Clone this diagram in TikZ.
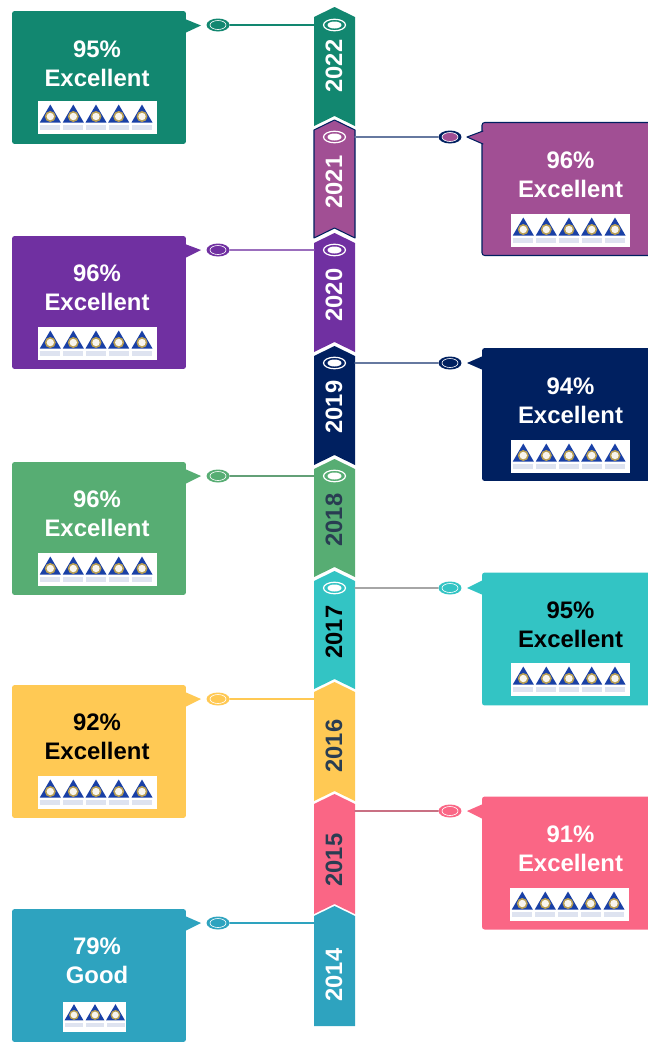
\documentclass[tikz,border=0pt]{standalone}
\usepackage{xcolor}
\usepackage{fontspec}
\usepackage{tikz}
\usetikzlibrary{shapes.geometric}
\setmainfont{Liberation Sans}
\definecolor{cc2022}{rgb}{0.07,0.53,0.44}
\definecolor{cc2021}{rgb}{0.63,0.31,0.58}
\definecolor{cc2020}{rgb}{0.44,0.19,0.63}
\definecolor{cc2019}{rgb}{0.,0.125,0.376}
\definecolor{cc2018}{rgb}{0.34,0.68,0.45}
\definecolor{cc2017}{rgb}{0.2,0.77,0.77}
\definecolor{cc2016}{rgb}{1.,0.79,0.33}
\definecolor{cc2015}{rgb}{0.98,0.4,0.52}
\definecolor{cc2014}{rgb}{0.18,0.64,0.75}
\definecolor{slate}{rgb}{0.16,0.24,0.32}
\definecolor{tipblue}{rgb}{0.1,0.25,0.65}
\definecolor{tipgold}{rgb}{0.72,0.62,0.32}
\definecolor{tipgrey}{rgb}{0.87,0.89,0.94}
\tikzstyle{every node}=[font=\fontsize{13.6}{16.5}\selectfont\bfseries]
\tikzstyle{boxnode}=[rectangle,rounded corners=1.5pt,minimum width=3.48cm,minimum height=2.66cm,inner sep=0pt]
\tikzstyle{scorenode}=[align=center,inner sep=0pt]
\tikzstyle{yearnode}=[rotate=90,inner sep=0pt,font=\fontsize{13.5}{16}\selectfont\bfseries]
\tikzstyle{dotnode}=[ellipse,minimum width=0.46cm,minimum height=0.26cm,inner sep=0pt]
\tikzstyle{dotring}=[ellipse,draw=white,line width=0.35pt,minimum width=0.32cm,minimum height=0.18cm,inner sep=0pt]
\tikzstyle{ringout}=[ellipse,draw=white,line width=0.7pt,minimum width=0.44cm,minimum height=0.23cm,inner sep=0pt]
\tikzstyle{ringin}=[ellipse,fill=white,minimum width=0.28cm,minimum height=0.14cm,inner sep=0pt]
\tikzset{logomark/.pic={
  \fill [tipblue] (0,3.5) -- (10.5,21.5) -- (-10.5,21.5) -- cycle;
  \fill [tipgold] (0,15.5) circle [radius=5.5];
  \fill [white!90!tipgold] (0,15.5) circle [radius=3.7];
  \fill [tipgrey] (-10,24) rectangle (10,28.5);
}}
\newcommand{\logofive}[2]{
  \fill [white] (#1,#2) rectangle ++(119,33);
  \pic at (#1+12.3,#2) {logomark};
  \pic at (#1+35.3,#2) {logomark};
  \pic at (#1+58,#2) {logomark};
  \pic at (#1+80.7,#2) {logomark};
  \pic at (#1+104,#2) {logomark};
}
\begin{document}
\begin{tikzpicture}[line cap=round,line join=round,x=0.02cm,y=-0.02cm]
\clip (0,0) rectangle (648,1042);
% ribbon
\fill [cc2022] (314,17) -- (334.5,7) -- (355,17) -- (355,126) -- (334.5,116) -- (314,126) -- cycle;
\draw [line width=0.6pt,color=cc2019,fill=cc2021] (314,130) -- (334.5,120) -- (355,130) -- (355,238) -- (334.5,228) -- (314,238) -- cycle;
\fill [cc2020] (314,243) -- (334.5,233) -- (355,243) -- (355,352) -- (334.5,342) -- (314,352) -- cycle;
\fill [cc2019] (314,356) -- (334.5,346) -- (355,356) -- (355,465) -- (334.5,455) -- (314,465) -- cycle;
\fill [cc2018] (314,469) -- (334.5,459) -- (355,469) -- (355,577) -- (334.5,567) -- (314,577) -- cycle;
\fill [cc2017] (314,581) -- (334.5,571) -- (355,581) -- (355,689) -- (334.5,679) -- (314,689) -- cycle;
\fill [cc2016] (314,692) -- (334.5,682) -- (355,692) -- (355,801) -- (334.5,791) -- (314,801) -- cycle;
\fill [cc2015] (314,804) -- (334.5,794) -- (355,804) -- (355,914) -- (334.5,904) -- (314,914) -- cycle;
\fill [cc2014] (314,916) -- (334.5,906) -- (355,916) -- (355,1026) -- (314,1026) -- cycle;
\node [yearnode,white] (y2022) at (334,66) {2022};
\node [yearnode,white] (y2021) at (334,182) {2021};
\node [yearnode,white] (y2020) at (334,295) {2020};
\node [yearnode,white] (y2019) at (334,407) {2019};
\node [yearnode,slate] (y2018) at (334,520) {2018};
\node [yearnode,black] (y2017) at (334,632) {2017};
\node [yearnode,slate] (y2016) at (334,746) {2016};
\node [yearnode,slate] (y2015) at (334,860) {2015};
\node [yearnode,white] (y2014) at (334,975) {2014};
\node [ringout] (ra2022) at (334.5,25) {};
\node [ringin] (rb2022) at (334.5,25) {};
\node [ringout] (ra2021) at (334.5,137) {};
\node [ringin] (rb2021) at (334.5,137) {};
\node [ringout] (ra2020) at (334.5,250) {};
\node [ringin] (rb2020) at (334.5,250) {};
\node [ringout] (ra2019) at (334.5,363) {};
\node [ringin] (rb2019) at (334.5,363) {};
\node [ringout] (ra2018) at (334.5,476) {};
\node [ringin] (rb2018) at (334.5,476) {};
\node [ringout] (ra2017) at (334.5,588) {};
\node [ringin] (rb2017) at (334.5,588) {};
% left boxes
\node [boxnode,fill=cc2022] (box2022) at (99,77.5) {};
\fill [cc2022] (185,19) -- (201,25.5) -- (185,33) -- cycle;
\node [scorenode,white] (txt2022) at (97,63.5) {95\%\\Excellent};
\logofive{38}{101}
\node [dotnode,fill=cc2022] (dot2022) at (218,25) {};
\node [dotring] (dr2022) at (218,25) {};
\coordinate (arm2022) at (314,25);
\draw [line width=0.7pt,color=cc2022] (dot2022) -- (arm2022);
\node [boxnode,fill=cc2020] (box2020) at (99,302.5) {};
\fill [cc2020] (185,244) -- (201,250) -- (185,258) -- cycle;
\node [scorenode,white] (txt2020) at (97,288) {96\%\\Excellent};
\logofive{38}{327}
\node [dotnode,fill=cc2020] (dot2020) at (218,250) {};
\node [dotring] (dr2020) at (218,250) {};
\coordinate (arm2020) at (314,250);
\draw [line width=0.7pt,color=cc2020!70] (dot2020) -- (arm2020);
\node [boxnode,fill=cc2018] (box2018) at (99,528.5) {};
\fill [cc2018] (185,469) -- (201,476) -- (185,484) -- cycle;
\node [scorenode,white] (txt2018) at (97,514) {96\%\\Excellent};
\logofive{38}{553}
\node [dotnode,fill=cc2018] (dot2018) at (218,476) {};
\node [dotring] (dr2018) at (218,476) {};
\coordinate (arm2018) at (314,476);
\draw [line width=0.7pt,color=cc2018!70!gray] (dot2018) -- (arm2018);
\node [boxnode,fill=cc2016] (box2016) at (99,751.5) {};
\fill [cc2016] (185,692) -- (201,699) -- (185,707) -- cycle;
\node [scorenode,black] (txt2016) at (97,737) {92\%\\Excellent};
\logofive{38}{776}
\node [dotnode,fill=cc2016] (dot2016) at (218,699) {};
\node [dotring] (dr2016) at (218,699) {};
\coordinate (arm2016) at (314,699);
\draw [line width=0.9pt,color=cc2016] (dot2016) -- (arm2016);
\node [boxnode,fill=cc2014] (box2014) at (99,975.5) {};
\fill [cc2014] (185,916) -- (201,923) -- (185,931) -- cycle;
\node [scorenode,white] (txt2014) at (97,961) {79\%\\Good};
\fill [white] (63,1002) rectangle (126,1032);
\pic [scale=0.9] at (74,1001) {logomark};
\pic [scale=0.9] at (95,1001) {logomark};
\pic [scale=0.9] at (115.5,1001) {logomark};
\node [dotnode,fill=cc2014] (dot2014) at (218,923) {};
\node [dotring] (dr2014) at (218,923) {};
\coordinate (arm2014) at (314,923);
\draw [line width=0.7pt,color=cc2014] (dot2014) -- (arm2014);
% right boxes
\node [boxnode,fill=cc2021,draw=cc2019,line width=0.6pt] (box2021) at (569,189) {};
\draw [line width=0.6pt,color=cc2019,fill=cc2021] (483,131) -- (467,137) -- (483,144);
\node [scorenode,white] (txt2021) at (570.5,174.5) {96\%\\Excellent};
\logofive{511}{214}
\node [dotnode,fill=cc2019] (dot2021) at (450,137) {};
\node [dotring,fill=cc2021] (dr2021) at (450,137) {};
\coordinate (arm2021) at (355,137);
\draw [line width=0.7pt,color=cc2019!60] (dot2021) -- (arm2021);
\node [boxnode,fill=cc2019] (box2019) at (569,414.5) {};
\fill [cc2019] (483,356) -- (467,363) -- (483,370) -- cycle;
\node [scorenode,white] (txt2019) at (570.5,400.5) {94\%\\Excellent};
\logofive{511}{440}
\node [dotnode,fill=cc2019] (dot2019) at (450,363) {};
\node [dotring] (dr2019) at (450,363) {};
\coordinate (arm2019) at (355,363);
\draw [line width=0.7pt,color=cc2019!60] (dot2019) -- (arm2019);
\node [boxnode,fill=cc2017] (box2017) at (569,639) {};
\fill [cc2017] (483,580) -- (467,588) -- (483,595) -- cycle;
\node [scorenode,black] (txt2017) at (570.5,625) {95\%\\Excellent};
\logofive{511}{663}
\node [dotnode,fill=cc2017] (dot2017) at (450,588) {};
\node [dotring] (dr2017) at (450,588) {};
\coordinate (arm2017) at (355,588);
\draw [line width=0.7pt,color=black!35] (dot2017) -- (arm2017);
\node [boxnode,fill=cc2015] (box2015) at (569,863) {};
\fill [cc2015] (483,804) -- (467,811) -- (483,819) -- cycle;
\node [scorenode,white] (txt2015) at (570.5,849) {91\%\\Excellent};
\logofive{510}{888}
\node [dotnode,fill=cc2015] (dot2015) at (450,811) {};
\node [dotring] (dr2015) at (450,811) {};
\coordinate (arm2015) at (355,811);
\draw [line width=0.9pt,color=cc2015!60!gray] (dot2015) -- (arm2015);
\end{tikzpicture}
\end{document}
